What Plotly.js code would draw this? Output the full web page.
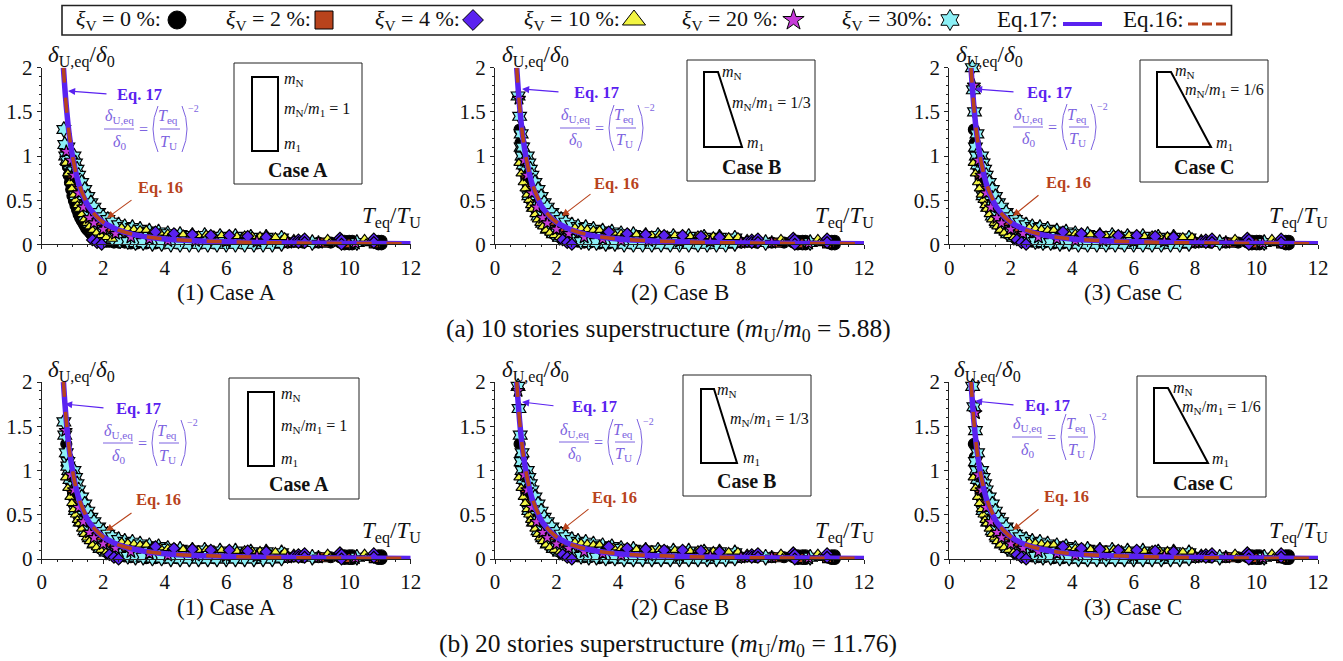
<!DOCTYPE html>
<html><head><meta charset="utf-8">
<script src="https://cdn.plot.ly/plotly-3.0.1.min.js"></script>
<style>html,body{margin:0;padding:0;background:#fff}</style></head>
<body><div id="chart" style="width:1343px;height:661px"></div>
<script>
// ---------- values ----------
const eq17T=[.707,.72,.75,.8,.85,.9,.95,1,1.1,1.2,1.3,1.4,1.5,1.6,1.8,2,2.25,2.5,3,3.5,4,5,6,7,8,9,10,11,12];
const eq17Y=[2,1.93,1.78,1.56,1.38,1.23,1.11,1,.83,.69,.59,.51,.44,.39,.31,.25,.2,.16,.11,.08,.06,.04,.03,.02,.016,.012,.01,.008,.007];
const eq16T=[.707,.72,.75,.8,.85,.9,.95,1,1.1,1.2,1.3,1.4,1.5,1.6,1.8,2,2.25,2.5,3,3.5,4,5,6,7,8,9,10,11,12];
const eq16Y=[2,1.93,1.78,1.56,1.38,1.23,1.11,1,.83,.7,.6,.52,.45,.39,.31,.25,.2,.16,.11,.08,.06,.04,.03,.02,.016,.012,.01,.008,.007];

const circleTA=[.85,.88,.92,.96,1,1.05,1.1,1.15,1.2,1.25,1.3,1.35,1.4,1.45,1.5,1.55,1.6,1.65,1.7,1.8,1.9,2,2.1,2.2,2.35,2.5,2.7,2.9,3.1,3.4,3.7,4,4.4,4.8,5.2,5.6,6,6.5,7,7.5,8,8.5,9,9.4,9.7,9.85,9.85,10,10,10.1,10.1,10.85,10.95,10.95,11.05,11.05];
const circleYA=[.88,.78,.7,.62,.55,.49,.44,.39,.34,.3,.27,.24,.21,.18,.16,.14,.12,.1,.09,.07,.05,.04,.03,.03,.02,.02,.02,.01,.01,.01,.01,.01,.01,.01,.01,.01,.01,.01,.01,.01,.02,.02,.02,.02,.02,.04,0,.04,0,.04,0,.02,.04,0,.04,0];
const circleTC=[.8,.83,.86,.9,.94,.98,1.02,1.06,1.1,1.15,1.2,1.25,1.3,1.35,1.4,1.45,1.5,1.55,1.6,1.65,1.7,1.8,1.9,2,2.1,2.2,2.35,2.5,2.7,2.9,3.1,3.4,3.7,4,4.4,4.8,5.2,5.6,6,6.5,7,7.5,8,8.5,9,9.4,9.7,9.85,9.85,10,10,10.1,10.1,10.85,10.95,10.95,11.05,11.05];
const circleYC=[1.3,1.15,1.05,.95,.87,.8,.74,.68,.63,.57,.52,.47,.43,.39,.35,.32,.29,.26,.24,.21,.19,.15,.12,.1,.08,.07,.05,.04,.03,.02,.02,.01,.01,.01,.01,.01,.01,.01,.01,.01,.01,.01,.02,.02,.02,.02,.02,.04,0,.04,0,.04,0,.02,.04,0,.04,0];
const squareT=[.9,1,1.1,1.25,1.4,1.6,1.8,2.1,2.5,3,3.5,4.2,5,5.8,6.5,7.5,8.3,9.2,9.9,10.8];
const squareY=[1,.8,.64,.5,.38,.28,.2,.14,.1,.07,.05,.04,.03,.03,.02,.02,.02,.02,.01,.01];
const triT=[.78,.85,.92,.98,1.04,1.1,1.16,1.22,1.3,1.38,1.46,1.55,1.65,1.78,1.92,2.1,2.3,2.6,2.8,3,3.2,3.4,3.6,3.85,4.1,4.35,4.6,4.85,5.1,5.35,5.6,5.85,6.1,6.35,6.6,6.85,7.1,7.35,7.6,7.9,8.2,8.25,9.3,9.35,10.5,10.55];
const triY=[.92,.8,.7,.63,.56,.5,.44,.4,.34,.28,.24,.2,.16,.13,.1,.08,.06,.19,.18,.17,.16,.16,.14,.13,.12,.12,.11,.11,.1,.11,.1,.1,.1,.09,.1,.09,.09,.09,.08,.08,.06,.02,.06,.01,.06,.01];
const starT=[.95,1.05,1.2,1.35,1.55,1.7,2,2.4,2.9,3.5,4.1,5,6,7,8,9,10.2];
const starY=[.95,.78,.58,.42,.3,.24,.17,.12,.08,.06,.04,.04,.03,.03,.02,.02,.01];
const hexT=[.85,.88,.92,1.05,1.1,1.15,1.2,1.3,1.4,1.5,1.6,1.7,1.85,2,2.15,2.3,2.5,2.7,2.95,3.2,3.5,3.8,4.1,4.5,4.9,5.3,5.8,6.3,6.8,7.3,7.8,1.1,1.25,1.4,1.55,1.7,1.9,2.1,2.3,2.55,2.8,3.05,3.3,3.6,3.9,4.2,4.5,4.8,5.1,5.4,5.7,6,6.3,6.6,6.9,7.2,7.5,7.8,8.8,10.25];
const hexY=[1.1,1,.9,1,.92,.85,.78,.7,.62,.54,.47,.42,.36,.31,.28,.25,.22,.2,.19,.17,.15,.14,.12,.11,.1,.1,.09,.09,.08,.08,.07,.55,.42,.32,.24,.17,.12,.08,.06,.04,.03,.02,.02,.01,.01,0,0,0,0,0,0,0,0,0,0,0,0,.01,.02,.02];
const diaTA=[1.65,1.8,1.95,2.1,2.25,2.4,2.55,2.7,2.85,3,3.15,3.3,3.5,3.7,3.9,4.1,4.3,4.5,4.7,4.9,5.1,5.3,5.5,5.7,5.9,6.1,6.3,6.5,6.7,6.9,7.1,7.3,7.5,7.7,3.7,4.3,4.9,5.5,6.1,6.7,7.3,8.2,8.35,8.35,8.35,8.5,8.55,8.55,8.55,9.7,9.7,9.7,9.75,9.75,10.75,10.8,10.8,10.8];
const diaYA=[.05,.02,0,-.02,-.02,-.03,-.03,-.03,-.03,-.03,-.035,-.03,-.035,-.03,-.035,-.03,-.035,-.03,-.035,-.03,-.035,-.03,-.035,-.03,-.035,-.03,-.035,-.03,-.035,-.03,-.035,-.03,-.035,-.02,.14,.12,.11,.1,.1,.09,.08,.03,.05,.02,-.01,.04,.06,.02,-.02,.07,.03,-.02,.05,0,.03,.06,.02,-.02];
const diaTC=[2.2,2.35,2.5,2.65,2.8,2.95,3.1,3.25,3.4,3.6,3.8,4,4.2,4.4,4.6,4.8,5,5.2,5.4,5.6,5.8,6,6.2,6.4,6.6,6.8,7,7.2,7.4,7.6,7.8,3.7,4.3,4.9,5.5,6.1,6.7,7.3,8.2,8.35,8.35,8.35,8.5,8.55,8.55,8.55,9.7,9.7,9.7,9.75,9.75,10.75,10.8,10.8,10.8];
const diaYC=[.05,.02,0,-.02,-.02,-.03,-.03,-.03,-.03,-.035,-.03,-.035,-.03,-.035,-.03,-.035,-.03,-.035,-.03,-.035,-.03,-.035,-.03,-.035,-.03,-.035,-.03,-.035,-.03,-.035,-.02,.14,.12,.11,.1,.1,.09,.08,.03,.05,.02,-.01,.04,.06,.02,-.02,.07,.03,-.02,.05,0,.03,.06,.02,-.02];

const headHexT=[[.72,.75,.78,.82],[.75,.8,.85,.9],[.75,.78,.82,.9],[.72,.75,.8,.85],[.75,.78,.82,.88],[.76,.8,.85,.92]];
const headHexY=[[1.3,1.13,1.0,.95],[1.68,1.45,1.25,1.1],[2,1.75,1.5,1.25],[1.55,1.4,1.2,1.05],[1.95,1.7,1.4,1.2],[1.95,1.72,1.45,1.2]];
const headStarT=[[.8],[.78],[.8],[.78],[.75],[.85]];
const headStarY=[[1.05],[1.65],[1.8],[1.45],[1.9],[1.65]];

const tickLabelsX=[0,2,4,6,8,10,12];
const tickLabelsY=[0,0.5,1,1.5,2];
const captions=["(1) Case A","(2) Case B","(3) Case C"];
const ratioLabels=["1","1/3","1/6"];
const rowCaptions=["(a) 10 stories superstructure (<i>m</i><sub>U</sub>/<i>m</i><sub>0</sub> = 5.88)","(b) 20 stories superstructure (<i>m</i><sub>U</sub>/<i>m</i><sub>0</sub> = 11.76)"];
const legendTexts=["<i>ξ</i><sub>V</sub> = 0 %:","<i>ξ</i><sub>V</sub> = 2 %:","<i>ξ</i><sub>V</sub> = 4 %:","<i>ξ</i><sub>V</sub> = 10 %:","<i>ξ</i><sub>V</sub> = 20 %:","<i>ξ</i><sub>V</sub> = 30%:","Eq.17:","Eq.16:"];

// ---------- style and layout ----------
const W=1343,H=661,FONT='"Liberation Serif","Times New Roman",serif';
const BLUE='#5a22f0',ORANGE='#b8431c',LILAC='#7d63e0',INK='#111';
const X=p=>p/W, Y=p=>1-p/H;
const sym={circle:['circle','#000000',11],square:['square',ORANGE,9],dia:['diamond',BLUE,9],tri:['triangle-up','#f2f542',9],star:['star','#c63ad8',10],hex:['hexagram','#8cf0f6',12]};
const geo=[
 {x:[41.7,410.7],y:[67.7,244.3],lab:81,tx:391,ty:217,box:[234,63,362,184],poly:[[252,77],[278,77],[278,151],[252,151]],mN:[284,80],ratio:[284,110],m1:[284,144],cs:[298,170],e17:[139,94],a17:[108,94,68,91],e16:[160,187],a16:[133,199,107,218],f:[104,129],cap:226,body:'A'},
 {x:[495,864],y:[67.7,244.3],lab:535,tx:845,ty:217,box:[687,60,815,181],poly:[[704,72],[718,72],[742,147],[704,147]],mN:[722,73],ratio:[732,104],m1:[747,143],cs:[751,167],e17:[596,92],a17:[560,92,522,89],e16:[616,183],a16:[592,193,562,216],f:[560,128],cap:680,body:'C'},
 {x:[949.3,1318],y:[67.7,244.3],lab:989,tx:1298,ty:217,box:[1140,60,1268,182],poly:[[1157,72],[1171,72],[1211,147],[1157,147]],mN:[1175,72],ratio:[1185,90],m1:[1216,143],cs:[1204,167],e17:[1049,92],a17:[1015,92,975,89],e16:[1068,182],a16:[1040,194,1013,216],f:[1013,127],cap:1133,body:'C'},
 {x:[41.7,410.7],y:[382,559],lab:81,tx:391,ty:532,box:[229,378,359,499],poly:[[248,392],[274,392],[274,466],[248,466]],mN:[281,395],ratio:[281,426],m1:[281,459],cs:[299,484],e17:[138,408],a17:[105,408,65,404],e16:[158,500],a16:[133,512,106,531],f:[103,443],cap:226,body:'C'},
 {x:[495,864],y:[382,559],lab:535,tx:845,ty:532,box:[683,375,811,496],poly:[[701,389],[714,389],[737,463],[701,463]],mN:[717,390],ratio:[730,419],m1:[743,458],cs:[746,481],e17:[594,406],a17:[555,406,522,402],e16:[614,497],a16:[590,508,562,530],f:[559,442],cap:680,body:'C'},
 {x:[949.3,1318],y:[382,559],lab:988,tx:1298,ty:532,box:[1137,376,1266,497],poly:[[1154,388],[1168,388],[1208,463],[1154,463]],mN:[1173,388],ratio:[1182,407],m1:[1212,459],cs:[1203,483],e17:[1047,405],a17:[1015,405,975,401],e16:[1066,496],a16:[1040,508,1013,530],f:[1012,437],cap:1133,body:'C'}
];
const traces=[],annotations=[],shapes=[],layout={};
function txt(px,py,text,size,color,anchor){annotations.push({xref:'paper',yref:'paper',x:X(px),y:Y(py),text,showarrow:false,xanchor:anchor||'center',yanchor:'middle',font:{family:FONT,size,color:color||INK},borderpad:0,borderwidth:0});}
function arrow(a,color){annotations.push({xref:'paper',yref:'paper',axref:'pixel',ayref:'pixel',x:X(a[2]),y:Y(a[3]),ax:a[0]-a[2],ay:a[1]-a[3],text:'',showarrow:true,arrowhead:2,arrowsize:1.3,arrowwidth:1.1,arrowcolor:color});}
function pts(xa,ya,xs,ys,s){const k=sym[s];traces.push({type:'scatter',mode:'markers',xaxis:xa,yaxis:ya,x:xs,y:ys,cliponaxis:false,showlegend:false,hoverinfo:'skip',marker:{symbol:k[0],color:k[1],size:k[2],line:{color:'#000',width:1.2}}});}
function line(xa,ya,xs,ys,color,width,dash){traces.push({type:'scatter',mode:'lines',xaxis:xa,yaxis:ya,x:xs,y:ys,cliponaxis:false,showlegend:false,hoverinfo:'skip',line:{color,width,dash:dash||'solid',shape:'spline'}});}
function formula(x0,y0){
 const c=LILAC;
 txt(x0+15,y0-12,'<i>δ</i><sub>U,eq</sub>',16,c);
 txt(x0+15,y0+13,'<i>δ</i><sub>0</sub>',16,c);
 txt(x0+39,y0,'=',16,c);
 txt(x0+64,y0-12,'<i>T</i><sub>eq</sub>',16,c);
 txt(x0+64,y0+13,'<i>T</i><sub>U</sub>',16,c);
 txt(x0+89,y0-21,'−2',10,c);
 const ln=(a,b)=>shapes.push({type:'line',xref:'paper',yref:'paper',x0:X(a),x1:X(b),y0:Y(y0),y1:Y(y0),line:{color:c,width:1}});
 ln(x0,x0+30);ln(x0+56,x0+76);
 const par=(a,b)=>shapes.push({type:'path',xref:'paper',yref:'paper',path:`M ${X(a)} ${Y(y0-23)} Q ${X(b)} ${Y(y0)} ${X(a)} ${Y(y0+23)}`,line:{color:c,width:1}});
 par(x0+54,x0+44);par(x0+78,x0+88);
}
geo.forEach((g,i)=>{
 const n=i+1,xa='x'+n,ya='y'+n;
 layout['xaxis'+n]={domain:[X(g.x[0]),X(g.x[1])],range:[0,12],anchor:ya,showgrid:false,zeroline:false,showline:true,linecolor:'#222',linewidth:1,
  tickmode:'array',tickvals:tickLabelsX,ticks:'outside',ticklen:4,tickcolor:'#222',tickfont:{family:FONT,size:21,color:INK},
  minor:{dtick:.5,ticks:'outside',ticklen:2,tickcolor:'#222',showgrid:false}};
 layout['yaxis'+n]={domain:[Y(g.y[1]),Y(g.y[0])],range:[0,2],anchor:xa,showgrid:false,zeroline:false,showline:true,linecolor:'#222',linewidth:1,
  tickmode:'array',tickvals:tickLabelsY,ticks:'outside',ticklen:4,tickcolor:'#222',tickfont:{family:FONT,size:21,color:INK},
  minor:{dtick:.1,ticks:'outside',ticklen:2,tickcolor:'#222',showgrid:false}};
 const A=g.body==='A';
 pts(xa,ya,A?circleTA:circleTC,A?circleYA:circleYC,'circle');
 pts(xa,ya,squareT,squareY,'square');
 pts(xa,ya,hexT,hexY,'hex');
 pts(xa,ya,headHexT[i],headHexY[i],'hex');
 pts(xa,ya,triT,triY,'tri');
 pts(xa,ya,starT,starY,'star');
 pts(xa,ya,headStarT[i],headStarY[i],'star');
 pts(xa,ya,A?diaTA:diaTC,A?diaYA:diaYC,'dia');
 line(xa,ya,eq17T,eq17Y,BLUE,5.5);
 line(xa,ya,eq16T,eq16Y,ORANGE,3.5,'15px,15px');
 const col=i%3;
 txt(g.lab,i<3?57:371,'<i>δ</i><sub>U,eq</sub>/<i>δ</i><sub>0</sub>',23);
 txt(g.tx,g.ty,'<i>T</i><sub>eq</sub>/<i>T</i><sub>U</sub>',23);
 txt(g.cap,i<3?292:607,captions[col],23);
 txt(g.e17[0],g.e17[1],'<b>Eq. 17</b>',16.5,BLUE);
 txt(g.e16[0],g.e16[1],'<b>Eq. 16</b>',16.5,ORANGE);
 arrow(g.a17,BLUE);arrow(g.a16,ORANGE);
 formula(g.f[0],g.f[1]);
 shapes.push({type:'rect',xref:'paper',yref:'paper',x0:X(g.box[0]),x1:X(g.box[2]),y0:Y(g.box[1]),y1:Y(g.box[3]),line:{color:'#222',width:1},fillcolor:'rgba(255,255,255,0)'});
 shapes.push({type:'path',xref:'paper',yref:'paper',path:'M '+g.poly.map(p=>X(p[0])+' '+Y(p[1])).join(' L ')+' Z',line:{color:'#000',width:2}});
 txt(g.mN[0],g.mN[1],'<i>m</i><sub>N</sub>',16,INK,'left');
 txt(g.ratio[0],g.ratio[1],'<i>m</i><sub>N</sub>/<i>m</i><sub>1</sub> = '+ratioLabels[col],16,INK,'left');
 txt(g.m1[0],g.m1[1],'<i>m</i><sub>1</sub>',16,INK,'left');
 txt(g.cs[0],g.cs[1],'<b>'+['Case A','Case B','Case C'][col]+'</b>',20,INK);
});
txt(668,330,rowCaptions[0],25.5);
txt(668,645,rowCaptions[1],25.5);

// legend strip
const legendTextEnd=[161,311,460,620,778,932,1058,1184];
const legendKeyX=[177,324,473,634,793.5,950];
const legendKeyS=[['circle',18],['square',18],['diamond',16],['triangle-up',20],['star',16],['hexagram',16]];
const legendKeyC=['#000000',ORANGE,BLUE,'#f2f542','#c63ad8','#8cf0f6'];
shapes.push({type:'rect',xref:'paper',yref:'paper',x0:X(62),x1:X(1231.5),y0:Y(5.5),y1:Y(35),line:{color:'#222',width:1.6}});
legendTexts.forEach((t,i)=>txt(legendTextEnd[i],20,t,i<6?22:23,INK,'right'));
layout.xaxis7={domain:[0,1],range:[0,W],visible:false,anchor:'y7',fixedrange:true};
layout.yaxis7={domain:[0,1],range:[H,0],visible:false,anchor:'x7',fixedrange:true};
legendKeyX.forEach((kx,i)=>traces.push({type:'scatter',mode:'markers',xaxis:'x7',yaxis:'y7',x:[kx],y:[20],showlegend:false,hoverinfo:'skip',cliponaxis:false,marker:{symbol:legendKeyS[i][0],size:legendKeyS[i][1],color:legendKeyC[i],line:{color:'#000',width:1}}}));
traces.push({type:'scatter',mode:'lines',xaxis:'x7',yaxis:'y7',x:[1063,1102],y:[24,24],showlegend:false,hoverinfo:'skip',line:{color:BLUE,width:4}});
traces.push({type:'scatter',mode:'lines',xaxis:'x7',yaxis:'y7',x:[1188,1226],y:[24,24],showlegend:false,hoverinfo:'skip',line:{color:ORANGE,width:3,dash:'10px,4px'}});

Object.assign(layout,{width:W,height:H,margin:{l:0,r:0,t:0,b:0},paper_bgcolor:'#fff',plot_bgcolor:'rgba(0,0,0,0)',showlegend:false,annotations,shapes,font:{family:FONT}});
Plotly.newPlot('chart',traces,layout,{displayModeBar:false,staticPlot:true});
</script></body></html>
